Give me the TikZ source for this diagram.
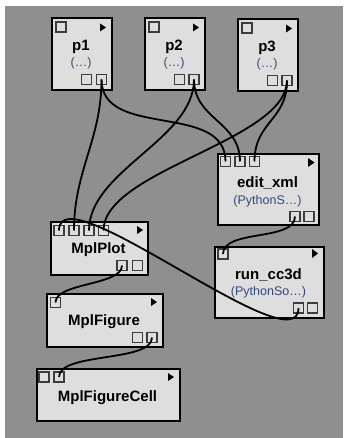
\documentclass[tikz,border=0pt]{standalone}
\usepackage{fontspec}
\setmainfont{Liberation Sans}
\definecolor{bggrey}{HTML}{8F8F8F}
\definecolor{modfill}{HTML}{DEDEDE}
\definecolor{portline}{HTML}{3C3C3C}
\definecolor{desccol}{HTML}{34487E}
\begin{document}
\begin{tikzpicture}[x=1pt,y=-1pt,
  modbox/.style={draw=black,fill=modfill,line width=2pt,rectangle,inner sep=0pt,anchor=north west},
  portbox/.style={draw=portline,fill=modfill,line width=1.3pt,rectangle,inner sep=0pt,minimum width=10pt,minimum height=10pt},
  modname/.style={font=\bfseries\fontsize{15}{17}\selectfont,inner sep=0pt},
  moddesc/.style={font=\fontsize{12.5}{14}\selectfont,text=desccol,inner sep=0pt},
  conn/.style={draw=black,line width=1.8pt},
  playtri/.style={fill=black}
]
\useasboundingbox (0,0) rectangle (343,438);
\fill[white] (0,0) rectangle (343,438);
\fill[bggrey] (5,6) rectangle (343,438);

% modules
\node[modbox,minimum width=60pt,minimum height=72pt] (p1) at (51,17) {};
\node[modbox,minimum width=60pt,minimum height=72pt] (p2) at (144,17) {};
\node[modbox,minimum width=60pt,minimum height=72pt] (p3) at (237,18) {};
\node[modbox,minimum width=101pt,minimum height=71pt] (ed) at (217,153) {};
\node[modbox,minimum width=97pt,minimum height=53pt] (plt) at (50,221) {};
\node[modbox,minimum width=109pt,minimum height=71pt] (run) at (214,246) {};
\node[modbox,minimum width=116pt,minimum height=53pt] (fig) at (46,293) {};
\node[modbox,minimum width=143pt,minimum height=52pt] (cell) at (36,368) {};

% labels
\node[modname] (p1n) at (81,47) {p1};
\node[moddesc] (p1d) at (81,63) {(…)};
\node[modname] (p2n) at (174,47) {p2};
\node[moddesc] (p2d) at (174,63) {(…)};
\node[modname] (p3n) at (267,48) {p3};
\node[moddesc] (p3d) at (267,64) {(…)};
\node[modname] (edn) at (267.5,183) {edit\_xml};
\node[moddesc] (edd) at (267.5,201) {(PythonS…)};
\node[modname] (pltn) at (98.5,250) {MplPlot};
\node[modname] (runn) at (268.5,275) {run\_cc3d};
\node[moddesc] (rund) at (268.5,292) {(PythonSo…)};
\node[modname] (fign) at (104,322) {MplFigure};
\node[modname] (celln) at (107.5,398) {MplFigureCell};

% play triangles
\fill[playtri] (100,23.5) -- (106,27.5) -- (100,31.5) -- cycle;
\fill[playtri] (193,23.5) -- (199,27.5) -- (193,31.5) -- cycle;
\fill[playtri] (286,24.5) -- (292,28.5) -- (286,32.5) -- cycle;
\fill[playtri] (308,158) -- (314.5,162.5) -- (308,167) -- cycle;
\fill[playtri] (137,226) -- (143,230) -- (137,234) -- cycle;
\fill[playtri] (312,249) -- (318,253.5) -- (312,258) -- cycle;
\fill[playtri] (151,298) -- (157,302) -- (151,306) -- cycle;
\fill[playtri] (168,373) -- (174,377) -- (168,381) -- cycle;

% ports
\node[portbox] (p1i) at (61,27) {};
\node[portbox] (p1o1) at (86.5,79.5) {};
\node[portbox] (p1o2) at (101.5,79.5) {};
\node[portbox] (p2i) at (154,27) {};
\node[portbox] (p2o1) at (179.5,79.5) {};
\node[portbox] (p2o2) at (194,79.5) {};
\node[portbox] (p3i) at (247,28) {};
\node[portbox] (p3o1) at (272.5,80.5) {};
\node[portbox] (p3o2) at (287,80.5) {};
\node[portbox] (ed1) at (225.5,161.5) {};
\node[portbox] (ed2) at (240,161.5) {};
\node[portbox] (ed3) at (254.5,161.5) {};
\node[portbox] (edo1) at (295,216.5) {};
\node[portbox] (edo2) at (309,216.5) {};
\node[portbox] (plt1) at (59,230.5) {};
\node[portbox] (plt2) at (74,230.5) {};
\node[portbox] (plt3) at (89,230.5) {};
\node[portbox] (plt4) at (103.5,230.5) {};
\node[portbox] (plto1) at (122,265.5) {};
\node[portbox] (plto2) at (137.5,265.5) {};
\node[portbox] (runi) at (223,254) {};
\node[portbox] (runo1) at (298.5,308) {};
\node[portbox] (runo2) at (312.5,308) {};
\node[portbox] (figi) at (55.5,302.5) {};
\node[portbox] (figo1) at (137.5,337.5) {};
\node[portbox] (figo2) at (152,337.5) {};
\node[portbox] (cell1) at (44,377) {};
\node[portbox] (cell2) at (59,377) {};

% connections
\draw[conn] (p1o2.center) .. controls +(0,60) and +(0,-60) .. (plt2.center);
\draw[conn] (p1o2.center) .. controls +(0,60) and +(0,-60) .. (ed1.center);
\draw[conn] (p2o2.center) .. controls +(0,60) and +(0,-60) .. (plt3.center);
\draw[conn] (p2o2.center) .. controls +(0,40) and +(0,-40) .. (ed2.center);
\draw[conn] (p3o2.center) .. controls +(0,60) and +(0,-60) .. (plt4.center);
\draw[conn] (p3o2.center) .. controls +(0,40) and +(0,-40) .. (ed3.center);
\draw[conn] (edo1.center) .. controls +(0,25) and +(0,-25) .. (runi.center);
\draw[conn] (runo1.center) .. controls +(0,60) and +(0,-60) .. (plt1.center);
\draw[conn] (plto1.center) .. controls +(0,20) and +(0,-20) .. (figi.center);
\draw[conn] (figo2.center) .. controls +(0,25) and +(0,-25) .. (cell2.center);
\end{tikzpicture}
\end{document}
